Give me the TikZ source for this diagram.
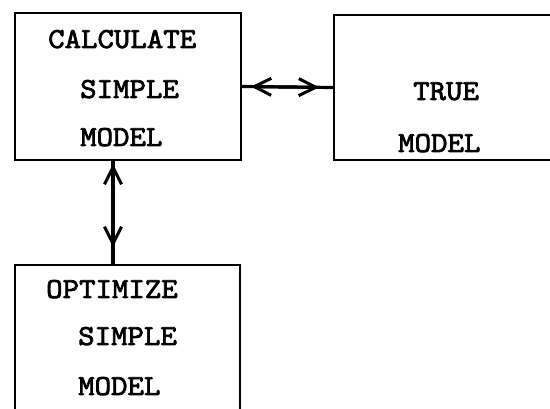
\documentclass[tikz,border=0pt]{standalone}
\usepackage{fontspec}
\newfontfamily\typewriter[FakeStretch=1.08,FakeBold=2.5]{lmmono10-regular.otf}
\usetikzlibrary{arrows.meta}
\begin{document}
\begin{tikzpicture}[x=1pt,y=-1pt,
  blockbox/.style={draw,line width=1.8pt,inner sep=0pt},
  label/.style={anchor=base west,inner sep=0pt,
    font=\typewriter\fontsize{29}{32}\selectfont},
  shaft/.style={line width=3.2pt},
  barbs/.style={line width=3.2pt,
    {Straight Barb[length=17pt,width=17pt,line width=3pt]}-{Straight Barb[length=17pt,width=17pt,line width=3pt]}}]
  \clip (0,0) rectangle (550,409);

  % blocks
  \node[blockbox,minimum width=226pt,minimum height=147pt] (calc) at (128,86.5) {};
  \node[blockbox,minimum width=236pt,minimum height=145pt] (true) at (452,87.5) {};
  \node[blockbox,minimum width=225pt,minimum height=165pt] (opt) at (127.5,347.5) {};

  % block texts
  \node[label] (t1) at (48,48) {CALCULATE};
  \node[label] (t2) at (80,98) {SIMPLE};
  \node[label] (t3) at (80,146) {MODEL};
  \node[label] (t4) at (413,100) {TRUE};
  \node[label] (t5) at (398,152) {MODEL};
  \node[label] (t6) at (46,298) {OPTIMIZE};
  \node[label] (t7) at (78,345) {SIMPLE};
  \node[label] (t8) at (78,395) {MODEL};

  % connectors
  \draw[shaft] (calc.east) -- (true.west);
  \draw[barbs,shorten <=9pt,shorten >=14pt] (calc.east) -- (true.west);
  \draw[shaft] ([xshift=-15pt]calc.south) -- ([xshift=-14.5pt]opt.north);
  \draw[barbs,shorten <=3pt,shorten >=17pt] ([xshift=-15pt]calc.south) -- ([xshift=-14.5pt]opt.north);
\end{tikzpicture}
\end{document}
